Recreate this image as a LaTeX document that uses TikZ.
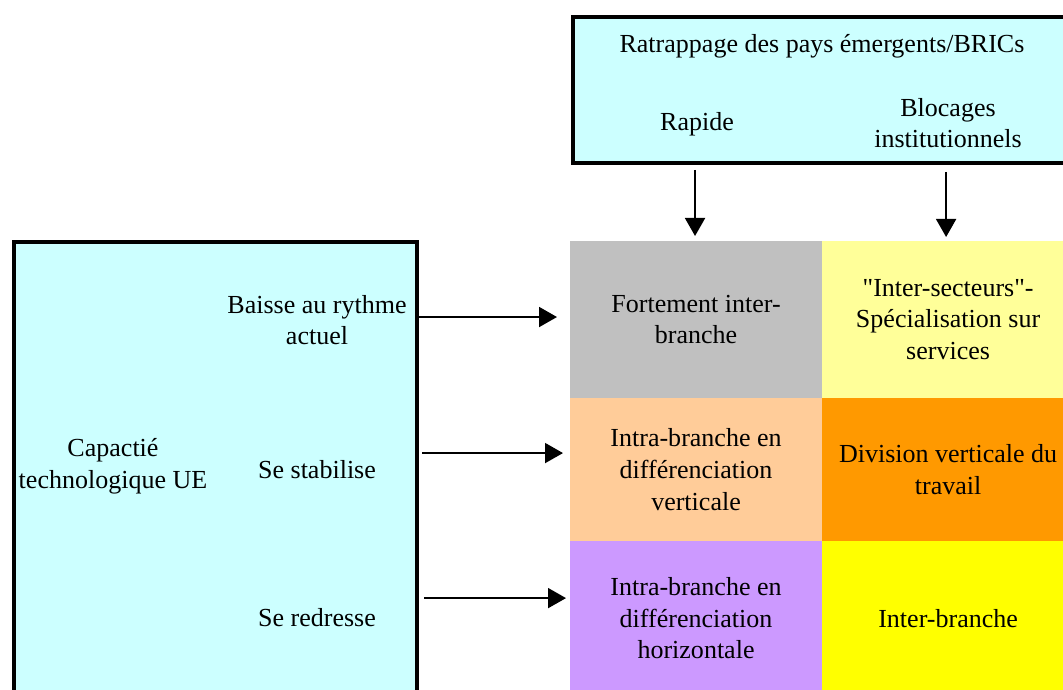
\documentclass[tikz,border=0pt]{standalone}
\usepackage{fontspec}
\setmainfont{Liberation Serif}[Ligatures=TeXOff]
\usetikzlibrary{arrows.meta,positioning,calc}
\definecolor{paleCyan}{HTML}{CCFFFF}
\definecolor{cellGrey}{HTML}{C0C0C0}
\definecolor{cellCream}{HTML}{FFFF99}
\definecolor{cellPeach}{HTML}{FFCC99}
\definecolor{cellOrange}{HTML}{FF9900}
\definecolor{cellLilac}{HTML}{CC99FF}
\definecolor{cellYellow}{HTML}{FFFF00}

\begin{document}
\begin{tikzpicture}[x=0.025cm,y=-0.025cm,node distance=0pt,
      every node/.style={font=\fontsize{18.5}{22.5}\selectfont},
      frame/.style={draw,line width=2.8pt,fill=paleCyan,inner sep=0pt,anchor=north west},
      cell/.style={inner sep=0pt,outer sep=0pt,align=center,minimum width=6.3cm},
      label/.style={align=center,inner sep=0pt},
      arrow/.style={-{Triangle[length=4.5mm,width=5mm]},line width=1.3pt}]
    \useasboundingbox (0,0) rectangle (1063,689);
    \clip (0,0) rectangle (1063,689);
    % the two framed boxes
    \node[frame,minimum width=10.08cm,minimum height=12cm] (ue) at (12,240) {};
    \node[frame,minimum width=12.6cm,minimum height=3.65cm] (bric) at (571,15) {};
    \node[label] (ratr) at (822,46) {Ratrappage des pays émergents/BRICs};
    \node[label] (rapide) at (697,124) {Rapide};
    \node[label] (bloc) at (948,123) {Blocages\\institutionnels};
    \node[label] (capa) at (113,466) {Capactié\\technologique UE};
    \node[label] (baisse) at (317,320) {Baisse au rythme\\actuel};
    \node[label] (stab) at (317,470) {Se stabilise};
    \node[label] (redr) at (317,618) {Se redresse};
    % the grid of outcomes
    \node[cell,fill=cellGrey,minimum height=3.925cm,anchor=north west] (fort) at (570,241) {Fortement inter-\\branche};
    \node[cell,fill=cellCream,minimum height=3.925cm,right=of fort] (serv) {"Inter-secteurs"-\\Spécialisation sur\\services};
    \node[cell,fill=cellPeach,minimum height=3.575cm,below=of fort] (vert) {Intra-branche en\\différenciation\\verticale};
    \node[cell,fill=cellOrange,minimum height=3.575cm,right=of vert] (div) {Division verticale du\\travail};
    \node[cell,fill=cellLilac,minimum height=3.85cm,below=of vert] (horiz) {Intra-branche en\\différenciation\\horizontale};
    \node[cell,fill=cellYellow,minimum height=3.85cm,right=of horiz] (inter) {Inter-branche};
    \draw[arrow] ($(bric.south -| fort.north)+(-1,5)$) -- ($(fort.north)+(-1,-5)$);
    \draw[arrow] ($(bric.south -| serv.north)+(-2,7)$) -- ($(serv.north)+(-2,-4)$);
    \draw[arrow] ($(ue.east |- fort.west)+(0,-2.5)$) -- ($(fort.west)+(-13,-2.5)$);
    \draw[arrow] ($(ue.east |- vert.west)+(3,-16.5)$) -- ($(vert.west)+(-7,-16.5)$);
    \draw[arrow] ($(ue.east |- horiz.west)+(5,-20)$) -- ($(horiz.west)+(-4,-20)$);
  \end{tikzpicture}
\end{document}
